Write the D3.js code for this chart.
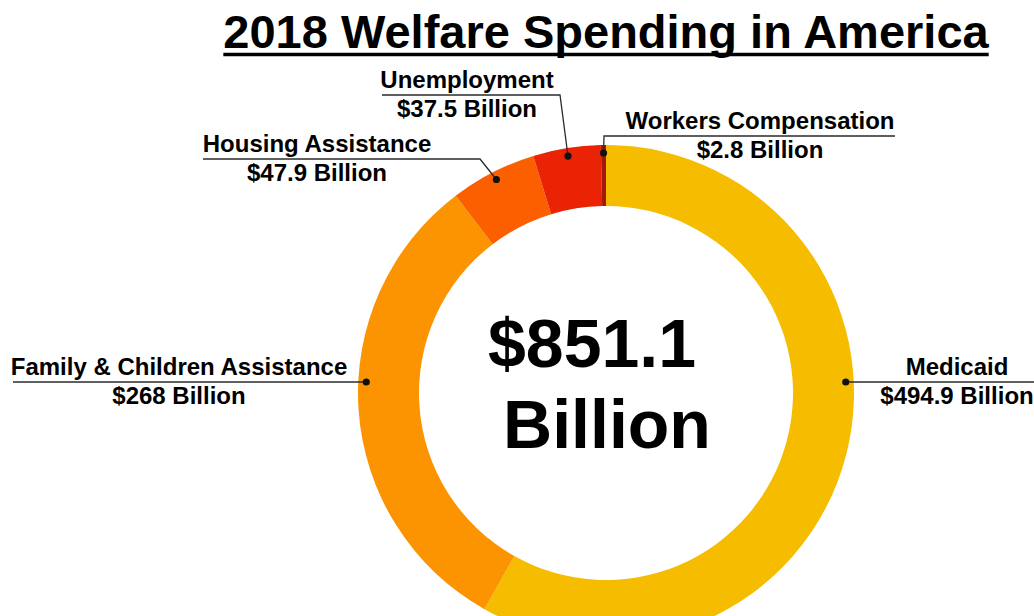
<!DOCTYPE html>
<html>
<head>
<meta charset="utf-8">
<script src="https://cdnjs.cloudflare.com/ajax/libs/d3/7.8.5/d3.min.js"></script>
<style>
  html, body { margin: 0; padding: 0; background: #fff; }
  svg { display: block; }
  text { font-family: 'Liberation Sans', Arial, Helvetica, sans-serif; font-weight: bold; fill: #000; }
</style>
</head>
<body>
<svg id="root" width="1034" height="616"></svg>
<script>
// data
const categories = ['Medicaid', 'Family & Children Assistance', 'Housing Assistance', 'Unemployment', 'Workers Compensation']
const values = [494.9, 268, 47.9, 37.5, 2.8]
const colors = ['#F5BC00', '#FB9400', '#FB5F00', '#E92304', '#A3190A']
const total = 851.1

// label layout: leader line level, elbow x, far end x, text centre x
const labelLayout = [
  { lineY: 382, elbowX: null, endX: 1034, textX: 957 },
  { lineY: 382, elbowX: null, endX: 13, textX: 179 },
  { lineY: 159, elbowX: 480, endX: 203, textX: 317 },
  { lineY: 95, elbowX: 560, endX: 382, textX: 467 },
  { lineY: 136, elbowX: 604, endX: 895, textX: 760 }
]

const cx = 606
const cy = 393
const outerR = 248
const innerR = 187
const dotR = 240

let root = d3.select('#root')

root.append('rect')
  .attr('width', '100%')
  .attr('height', '100%')
  .attr('fill', '#fff')

// title
let title = root.append('text')
  .attr('x', 606)
  .attr('y', 48)
  .attr('text-anchor', 'middle')
  .attr('font-size', 47)
  .text('2018 Welfare Spending in America')
let tw = title.node().getComputedTextLength()
root.append('line')
  .attr('x1', 606 - tw / 2)
  .attr('x2', 606 + tw / 2)
  .attr('y1', 54.5)
  .attr('y2', 54.5)
  .attr('stroke', '#000')
  .attr('stroke-width', 3.5)

let pie = d3.pie().sort(null).value((d) => d.value)
let arcs = pie(categories.map((c, i) => ({ name: c, value: values[i], color: colors[i], layout: labelLayout[i] })))
let arc = d3.arc().innerRadius(innerR).outerRadius(outerR)

let g = root.append('g').attr('transform', `translate(${cx},${cy})`)

g.selectAll('path.slice')
  .data(arcs)
  .enter().append('path')
  .attr('class', 'slice')
  .attr('d', arc)
  .attr('fill', (d) => d.data.color)

// centre total
root.append('text')
  .attr('x', 592)
  .attr('y', 367)
  .attr('text-anchor', 'middle')
  .attr('font-size', 68)
  .text('$' + d3.format('.1f')(total))
root.append('text')
  .attr('x', 607)
  .attr('y', 448)
  .attr('text-anchor', 'middle')
  .attr('font-size', 68)
  .text('Billion')

// dot positions: small slices at centroid angle, big ones where ring meets the line level
function dotPos (d) {
  let L = d.data.layout
  let a
  if (L.elbowX === null) {
    let s = Math.asin((cy - L.lineY) / dotR)
    let mid = (d.startAngle + d.endAngle) / 2
    a = mid < Math.PI ? Math.PI / 2 - s : 3 * Math.PI / 2 + s
  } else {
    a = (d.startAngle + d.endAngle) / 2
  }
  return [cx + dotR * Math.sin(a), cy - dotR * Math.cos(a)]
}

let labels = root.selectAll('g.label')
  .data(arcs)
  .enter().append('g')
  .attr('class', 'label')

labels.append('path')
  .attr('fill', 'none')
  .attr('stroke', '#2b2b2b')
  .attr('stroke-width', 1.3)
  .attr('d', (d) => {
    let L = d.data.layout
    let p = dotPos(d)
    let pts = [p]
    if (L.elbowX !== null) pts.push([L.elbowX, L.lineY])
    pts.push([L.endX, L.lineY])
    return d3.line()(pts)
  })

labels.append('circle')
  .attr('cx', (d) => dotPos(d)[0])
  .attr('cy', (d) => dotPos(d)[1])
  .attr('r', 3.6)
  .attr('fill', '#111')

labels.append('text')
  .attr('x', (d) => d.data.layout.textX)
  .attr('y', (d) => d.data.layout.lineY - 7)
  .attr('text-anchor', 'middle')
  .attr('font-size', 24)
  .text((d) => d.data.name)

labels.append('text')
  .attr('x', (d) => d.data.layout.textX)
  .attr('y', (d) => d.data.layout.lineY + 22)
  .attr('text-anchor', 'middle')
  .attr('font-size', 24)
  .text((d) => '$' + d.data.value + ' Billion')
</script>
</body>
</html>
